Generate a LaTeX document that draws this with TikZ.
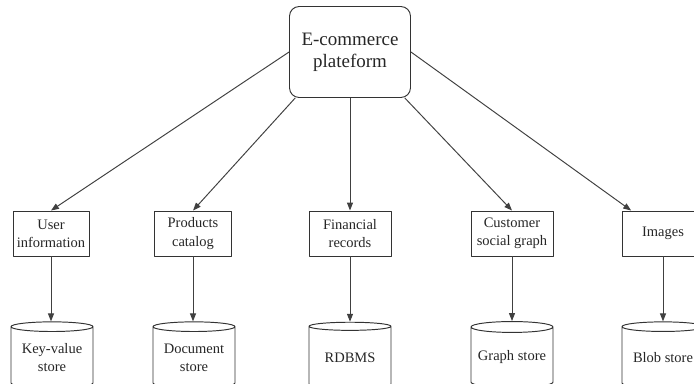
\documentclass[tikz,border=0pt]{standalone}
\usepackage{fontspec}
\setmainfont{Liberation Serif}
\usetikzlibrary{shapes.geometric,arrows.meta}
\tikzset{
  box/.style={draw=black!80, line width=0.55pt, align=center, minimum height=0.9cm, inner sep=1pt},
  store/.style={draw=black!80, line width=0.55pt, cylinder, shape border rotate=90, aspect=0.16,
    minimum width=1.64cm, minimum height=1.32cm, align=center, inner sep=0pt},
  link/.style={->, draw=black!75, line width=0.55pt}
}
\begin{document}
\begin{tikzpicture}[x=0.02cm, y=0.02cm, line join=round, >={Triangle[length=4.5pt,width=3.4pt]},
  font=\fontsize{8.25}{10.3}\selectfont, every node/.append style={text=black!85}]
 \def\yb{149.5} \def\ys{25.5}
 \clip (0,0) rectangle (694,383);
 % platform
 \node[box, rounded corners=5.5pt, minimum width=2.42cm, minimum height=1.82cm,
   font=\fontsize{10.8}{12.4}\selectfont] (shop) at (350,331) {E-commerce\\plateform};
 % kinds of data
 \node[box, minimum width=1.52cm] (user) at (51,\yb) {User\\information};
 \node[box, minimum width=1.54cm] (prod) at (193,\yb) {Products\\catalog};
 \node[box, minimum width=1.64cm] (fin) at (350,\yb) {Financial\\records};
 \node[box, minimum width=1.64cm] (cust) at (512,\yb) {Customer\\social graph};
 \node[box, minimum width=1.64cm] (img) at (663,\yb) {Images};
 % stores
 \node[store] (kv) at (52,\ys) {Key-value\\store};
 \node[store] (doc) at (194,\ys) {Document\\store};
 \node[store] (rdb) at (350,\ys) {RDBMS};
 \node[store] (graph) at (512,\ys) {Graph store};
 \node[store] (blob) at (663,\ys) {Blob store};
 \draw[link] (shop.west) -- (user.north);
 \draw[link] (shop.-140) -- (prod.north);
 \draw[link] (shop.south) -- (fin.north);
 \draw[link] (shop.-40) -- (cust.north);
 \draw[link] (shop.east) -- (img);
 \foreach \a/\b in {user/kv, prod/doc, fin/rdb, cust/graph, img/blob}
 \draw[link] (\a.south) -- (\a.south |- \b.north);
\end{tikzpicture}
\end{document}
